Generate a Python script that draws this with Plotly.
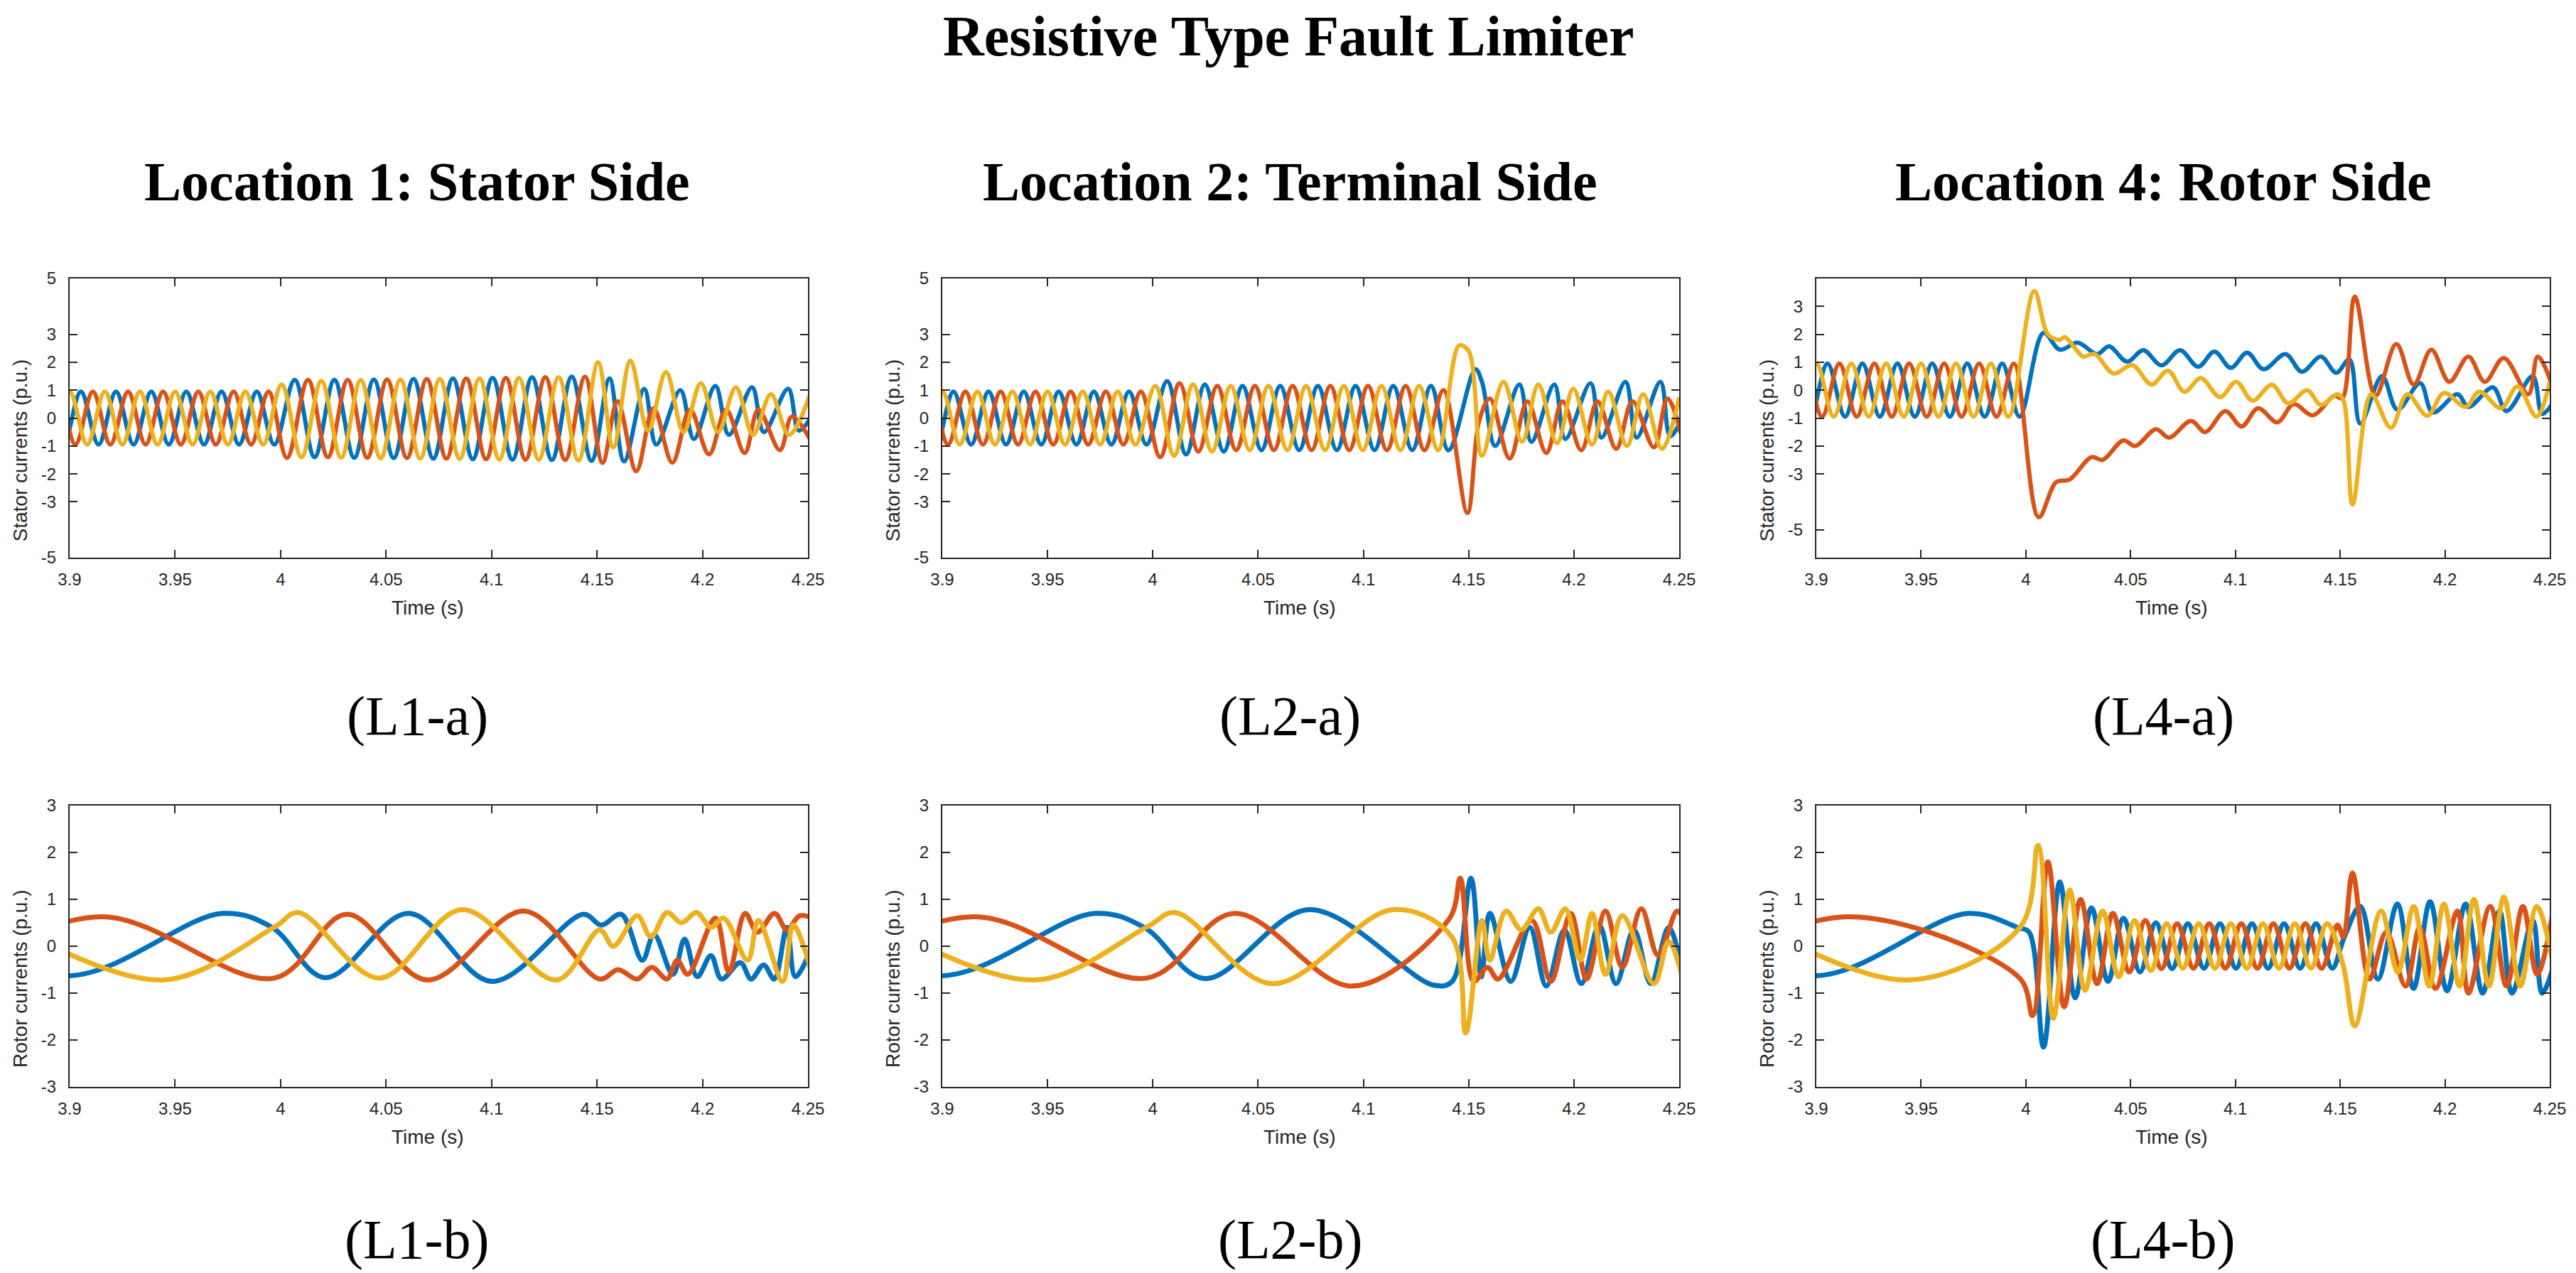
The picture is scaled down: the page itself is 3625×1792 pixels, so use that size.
import plotly.graph_objects as go

W, H = 3625, 1792
BLUE, ORANGE, YELLOW = "#0072BD", "#D95319", "#EDB120"
AX = "#262626"

# ---------------- tick labels ----------------
X_TICKS = [3.9, 3.95, 4.0, 4.05, 4.1, 4.15, 4.2, 4.25]
X_TICK_TEXT = ["3.9", "3.95", "4", "4.05", "4.1", "4.15", "4.2", "4.25"]
ST_TICKS = [-5, -3, -2, -1, 0, 1, 2, 3, 5]
ST_TICK_TEXT = ["-5", "-3", "-2", "-1", "0", "1", "2", "3", "5"]
ST4_TICKS = [-5, -3, -2, -1, 0, 1, 2, 3]
ST4_TICK_TEXT = ["-5", "-3", "-2", "-1", "0", "1", "2", "3"]
RT_TICKS = [-3, -2, -1, 0, 1, 2, 3]
RT_TICK_TEXT = ["-3", "-2", "-1", "0", "1", "2", "3"]

# ---------------- stator currents, pre-fault (shared) ----------------
PRE_ST_Y_T = [3.8833, 3.8917, 3.9000, 3.9083, 3.9167, 3.9250, 3.9333, 3.9417, 3.9500, 3.9583, 3.9667, 3.9750, 3.9833, 3.9917]
PRE_ST_Y_V = [0.95, -0.95, 0.95, -0.95, 0.95, -0.95, 0.95, -0.95, 0.95, -0.95, 0.95, -0.95, 0.95, -0.95]
PRE_ST_B_T = [3.8887, 3.8970, 3.9053, 3.9137, 3.9220, 3.9303, 3.9387, 3.9470, 3.9553, 3.9637, 3.9720, 3.9803, 3.9887, 3.9970]
PRE_ST_B_V = [0.95, -0.95, 0.95, -0.95, 0.95, -0.95, 0.95, -0.95, 0.95, -0.95, 0.95, -0.95, 0.95, -0.95]
PRE_ST_O_T = [3.8860, 3.8943, 3.9027, 3.9110, 3.9193, 3.9277, 3.9360, 3.9443, 3.9527, 3.9610, 3.9693, 3.9777, 3.9860, 3.9943]
PRE_ST_O_V = [-0.95, 0.95, -0.95, 0.95, -0.95, 0.95, -0.95, 0.95, -0.95, 0.95, -0.95, 0.95, -0.95, 0.95]

# ---------------- L1-a ----------------
L1A_B_T = [4.0067, 4.0161, 4.0255, 4.0349, 4.0442, 4.0536, 4.0630, 4.0724, 4.0817, 4.0911, 4.1005, 4.1099, 4.1192, 4.1286, 4.1380, 4.1474,
           4.1559, 4.1628, 4.1724, 4.1781, 4.1895, 4.1959, 4.2061, 4.2125, 4.2235, 4.2291, 4.2406, 4.2457, 4.2520]
L1A_B_V = [1.37, -1.40, 1.37, -1.42, 1.38, -1.43, 1.40, -1.45, 1.42, -1.47, 1.44, -1.49, 1.46, -1.50, 1.48, -1.53,
           1.42, -1.55, 1.05, -0.95, 1.00, -0.75, 1.15, -0.60, 1.10, -0.50, 1.05, -0.45, 0.10]
L1A_O_T = [4.0030, 4.0130, 4.0224, 4.0318, 4.0411, 4.0505, 4.0599, 4.0693, 4.0786, 4.0880, 4.0974, 4.1068, 4.1161, 4.1255, 4.1349, 4.1443,
           4.1526, 4.1597, 4.1686, 4.1768, 4.1857, 4.1941, 4.2031, 4.2112, 4.2200, 4.2265, 4.2367, 4.2424, 4.2520]
L1A_O_V = [-1.43, 1.37, -1.40, 1.37, -1.42, 1.38, -1.43, 1.40, -1.45, 1.42, -1.47, 1.44, -1.49, 1.46, -1.50, 1.48,
           -1.60, 0.60, -1.90, 0.35, -1.60, 0.30, -1.30, 0.30, -1.25, 0.30, -1.15, 0.05, -0.90]
L1A_Y_T = [4.0005, 4.0099, 4.0193, 4.0287, 4.0380, 4.0474, 4.0568, 4.0662, 4.0755, 4.0849, 4.0943, 4.1037, 4.1130, 4.1224, 4.1318, 4.1412,
           4.1505, 4.1577, 4.1658, 4.1742, 4.1827, 4.1910, 4.1992, 4.2074, 4.2158, 4.2240, 4.2324, 4.2410, 4.2510]
L1A_Y_V = [1.20, -1.40, 1.33, -1.42, 1.36, -1.44, 1.38, -1.45, 1.40, -1.46, 1.42, -1.48, 1.44, -1.49, 1.46, -1.52,
           2.00, -1.05, 2.05, -0.45, 1.65, -0.50, 1.25, -0.50, 1.10, -0.60, 0.85, -0.60, 0.85]

# ---------------- L2-a ----------------
L2A_B_T = [4.0068, 4.0158, 4.0247, 4.0337, 4.0426, 4.0516, 4.0605, 4.0695, 4.0784, 4.0874, 4.0963, 4.1053, 4.1142, 4.1232, 4.1321, 4.1404,
           4.1532, 4.1565, 4.1626, 4.1741, 4.1798, 4.1907, 4.1959, 4.2079, 4.2130, 4.2245, 4.2298, 4.2411, 4.2457, 4.2520]
L2A_B_V = [1.32, -1.30, 1.20, -1.20, 1.15, -1.15, 1.15, -1.15, 1.15, -1.15, 1.15, -1.15, 1.15, -1.15, 1.15, -1.15,
           1.75, 1.25, -1.00, 1.20, -0.85, 1.20, -0.75, 1.25, -0.70, 1.30, -0.70, 1.30, -0.65, 0.10]
L2A_O_T = [4.0035, 4.0127, 4.0216, 4.0306, 4.0396, 4.0485, 4.0575, 4.0664, 4.0754, 4.0843, 4.0933, 4.1022, 4.1112, 4.1201, 4.1290, 4.1380,
           4.1494, 4.1550, 4.1601, 4.1695, 4.1779, 4.1869, 4.1946, 4.2035, 4.2112, 4.2201, 4.2278, 4.2380, 4.2444, 4.2520]
L2A_O_V = [-1.40, 1.25, -1.20, 1.15, -1.15, 1.15, -1.15, 1.15, -1.15, 1.15, -1.15, 1.15, -1.15, 1.15, -1.15, 1.00,
           -3.40, -0.10, 0.70, -1.45, 0.60, -1.25, 0.60, -1.15, 0.60, -1.10, 0.60, -1.05, 0.70, -0.90]
L2A_Y_T = [4.0012, 4.0101, 4.0191, 4.0281, 4.0370, 4.0460, 4.0549, 4.0639, 4.0728, 4.0818, 4.0907, 4.0997, 4.1086, 4.1176, 4.1265, 4.1355,
           4.1455, 4.1500, 4.1563, 4.1665, 4.1754, 4.1831, 4.1920, 4.1997, 4.2086, 4.2163, 4.2252, 4.2329, 4.2418, 4.2500]
L2A_Y_V = [1.15, -1.35, 1.20, -1.20, 1.15, -1.15, 1.15, -1.15, 1.15, -1.15, 1.15, -1.15, 1.15, -1.15, 1.15, -1.15,
           2.60, 2.40, -1.35, 1.30, -0.85, 1.20, -0.90, 1.05, -0.95, 0.95, -1.00, 0.85, -1.10, 0.75]

# ---------------- L4-a ----------------
L4A_B_T = [4.0084, 4.0162, 4.0248, 4.0340, 4.0397, 4.0483, 4.0561, 4.0647, 4.0736, 4.0822, 4.0900, 4.0978, 4.1056, 4.1134, 4.1239, 4.1317,
           4.1408, 4.1481, 4.1544, 4.1596, 4.1700, 4.1773, 4.1882, 4.1942, 4.2060, 4.2112, 4.2229, 4.2294, 4.2419, 4.2464, 4.2520]
L4A_B_V = [2.05, 1.45, 1.70, 1.29, 1.57, 1.02, 1.43, 0.89, 1.43, 0.84, 1.38, 0.80, 1.34, 0.75, 1.29, 0.66,
           1.20, 0.62, 1.10, -1.20, 0.50, -0.70, 0.25, -0.80, -0.15, -0.60, 0.10, -0.75, 0.50, -0.85, -0.40]
L4A_O_T = [4.0061, 4.0144, 4.0209, 4.0313, 4.0366, 4.0465, 4.0522, 4.0621, 4.0684, 4.0788, 4.0856, 4.0952, 4.1030, 4.1108, 4.1200, 4.1278,
           4.1369, 4.1473, 4.1510, 4.1570, 4.1669, 4.1768, 4.1851, 4.1935, 4.2021, 4.2112, 4.2190, 4.2281, 4.2398, 4.2443, 4.2520]
L4A_O_V = [-4.55, -3.30, -3.20, -2.40, -2.50, -1.80, -2.00, -1.40, -1.70, -1.10, -1.50, -0.75, -1.30, -0.65, -1.15, -0.50,
           -0.90, -0.20, -0.30, 3.35, -0.20, 1.65, 0.20, 1.45, 0.30, 1.20, 0.30, 1.15, -0.15, 1.20, 0.00]
L4A_Y_T = [4.0040, 4.0105, 4.0160, 4.0185, 4.0235, 4.0274, 4.0327, 4.0418, 4.0509, 4.0600, 4.0678, 4.0757, 4.0835, 4.0926, 4.1004, 4.1082,
           4.1174, 4.1252, 4.1343, 4.1408, 4.1486, 4.1515, 4.1559, 4.1648, 4.1742, 4.1820, 4.1916, 4.1995, 4.2099, 4.2164, 4.2268, 4.2346,
           4.2437, 4.2500]
L4A_Y_V = [3.55, 2.00, 1.80, 1.90, 1.50, 1.20, 1.30, 0.60, 0.89, 0.20, 0.70, -0.06, 0.43, -0.25, 0.30, -0.38,
           0.19, -0.47, 0.00, -0.53, -0.15, -0.35, -4.10, -0.15, -1.35, -0.15, -0.92, -0.10, -0.60, -0.05, -0.65, 0.13,
           -0.95, 0.30]

# ---------------- rotor currents, pre-fault (shared) ----------------
PRE_RT_B_T = [3.825, 3.899, 3.9725, 3.9960]
PRE_RT_B_V = [0.70, -0.63, 0.70, 0.40]
PRE_RT_O_T = [3.840, 3.915, 3.997]
PRE_RT_O_V = [-0.65, 0.63, -0.68]
PRE_RT_Y_T = [3.862, 3.944, 3.9975]
PRE_RT_Y_V = [0.70, -0.72, 0.42]

# ---------------- L1-b ----------------
L1B_B_T = [4.0212, 4.0607, 4.1003, 4.1436, 4.1520, 4.1615, 4.1715, 4.1770, 4.1860, 4.1915, 4.1975, 4.2040, 4.2090, 4.2180, 4.2230, 4.2290,
           4.2340, 4.2400, 4.2440, 4.2520]
L1B_B_V = [-0.67, 0.70, -0.75, 0.68, 0.45, 0.68, -0.30, 0.25, -0.60, 0.15, -0.65, -0.20, -0.70, -0.35, -0.70, -0.40,
           -0.70, 0.40, -0.65, 0.00]
L1B_O_T = [4.0314, 4.0696, 4.1156, 4.1513, 4.1600, 4.1690, 4.1760, 4.1832, 4.1880, 4.1930, 4.2061, 4.2125, 4.2202, 4.2260, 4.2342, 4.2400,
           4.2460, 4.2520]
L1B_O_V = [0.68, -0.72, 0.75, -0.70, -0.50, -0.70, -0.45, -0.70, -0.30, -0.60, 0.60, -0.55, 0.70, 0.30, 0.70, 0.35,
           0.65, 0.60]
L1B_Y_T = [4.0084, 4.0467, 4.0862, 4.1309, 4.1513, 4.1577, 4.1691, 4.1755, 4.1832, 4.1900, 4.1972, 4.2040, 4.2100, 4.2214, 4.2265, 4.2380,
           4.2430, 4.2520]
L1B_Y_V = [0.72, -0.68, 0.78, -0.72, 0.35, 0.00, 0.65, 0.20, 0.72, 0.50, 0.72, 0.40, 0.60, -0.30, 0.55, -0.75,
           0.45, -0.60]

# ---------------- L2-b ----------------
L2B_B_T = [4.0247, 4.0745, 4.1333, 4.1422, 4.1511, 4.1560, 4.1601, 4.1700, 4.1790, 4.1869, 4.1955, 4.2035, 4.2120, 4.2200, 4.2285, 4.2365,
           4.2450, 4.2520]
L2B_B_V = [-0.69, 0.78, -0.83, -0.75, 1.45, -0.65, 0.70, -0.75, 0.40, -0.85, 0.35, -0.80, 0.45, -0.80, 0.35, -0.80,
           0.40, -0.70]
L2B_O_T = [4.0387, 4.0949, 4.1410, 4.1460, 4.1524, 4.1589, 4.1640, 4.1800, 4.1890, 4.1985, 4.2060, 4.2150, 4.2230, 4.2320, 4.2400, 4.2490,
           4.2520]
L2B_O_V = [0.70, -0.85, 0.60, 1.45, -0.75, -0.45, -0.70, 0.55, -0.75, 0.70, -0.70, 0.75, -0.45, 0.80, -0.20, 0.75,
           0.60]
L2B_Y_T = [4.0106, 4.0566, 4.1141, 4.1420, 4.1486, 4.1563, 4.1600, 4.1678, 4.1750, 4.1831, 4.1890, 4.1959, 4.2030, 4.2086, 4.2150, 4.2230,
           4.2380, 4.2450, 4.2520]
L2B_Y_V = [0.72, -0.80, 0.78, 0.20, -1.85, 0.55, -0.30, 0.75, 0.35, 0.80, 0.30, 0.80, -0.30, 0.70, -0.60, 0.65,
           -0.80, 0.10, -0.75]

# ---------------- L4-b ----------------
L4B_B_T = [4.0015, 4.0084, 4.0162, 4.0235, 4.0313, 4.0392, 4.0466, 4.0545, 4.0620, 4.0698, 4.0773, 4.0850, 4.0926, 4.1003, 4.1079, 4.1156,
           4.1232, 4.1309, 4.1385, 4.1462, 4.1520, 4.1596, 4.1680, 4.1773, 4.1850, 4.1929, 4.2010, 4.2099, 4.2180, 4.2260, 4.2320, 4.2419,
           4.2464, 4.2520]
L4B_B_V = [0.30, -2.15, 1.37, -1.10, 0.82, -0.75, 0.60, -0.55, 0.50, -0.48, 0.48, -0.47, 0.48, -0.47, 0.48, -0.47,
           0.48, -0.47, 0.48, -0.47, 0.20, 0.85, -0.70, 0.90, -0.90, 0.95, -0.95, 0.90, -1.00, 0.75, -1.00, 0.55,
           -1.00, -0.40]
L4B_O_T = [4.0032, 4.0105, 4.0183, 4.0261, 4.0340, 4.0415, 4.0494, 4.0570, 4.0647, 4.0722, 4.0800, 4.0875, 4.0952, 4.1028, 4.1105, 4.1181,
           4.1258, 4.1334, 4.1411, 4.1487, 4.1515, 4.1559, 4.1640, 4.1720, 4.1812, 4.1880, 4.1955, 4.2060, 4.2112, 4.2216, 4.2294, 4.2372,
           4.2440, 4.2520]
L4B_O_V = [-1.48, 1.80, -1.29, 1.00, -0.80, 0.70, -0.55, 0.55, -0.48, 0.48, -0.47, 0.48, -0.47, 0.48, -0.47, 0.48,
           -0.47, 0.48, -0.47, 0.45, 0.20, 1.56, -0.70, 0.30, -0.85, 0.40, -0.90, 0.75, -1.00, 0.85, -0.85, 0.85,
           -0.60, 0.85]
L4B_Y_T = [4.0058, 4.0131, 4.0209, 4.0282, 4.0366, 4.0443, 4.0519, 4.0596, 4.0672, 4.0749, 4.0825, 4.0902, 4.0978, 4.1055, 4.1131, 4.1208,
           4.1284, 4.1361, 4.1437, 4.1514, 4.1570, 4.1695, 4.1775, 4.1851, 4.1925, 4.1995, 4.2070, 4.2138, 4.2210, 4.2281, 4.2360, 4.2438,
           4.2520]
L4B_Y_V = [2.15, -1.54, 1.20, -0.94, 0.75, -0.65, 0.55, -0.52, 0.48, -0.47, 0.48, -0.47, 0.48, -0.47, 0.48, -0.47,
           0.48, -0.47, 0.48, -0.40, -1.70, 0.75, -0.55, 0.85, -0.85, 0.90, -0.85, 1.00, -0.85, 1.05, -0.85, 0.85,
           -0.45]

# ---------------- text ----------------
MAIN_TITLE = "Resistive Type Fault Limiter"
COL_TITLES = ["Location 1: Stator Side", "Location 2: Terminal Side", "Location 4: Rotor Side"]
CAPTIONS_A = ["(L1-a)", "(L2-a)", "(L4-a)"]
CAPTIONS_B = ["(L1-b)", "(L2-b)", "(L4-b)"]
Y_TITLE_A = "Stator currents (p.u.)"
Y_TITLE_B = "Rotor currents (p.u.)"
X_TITLE = "Time (s)"

# ---------------- layout geometry (pixels) ----------------
COLS = [(98, 1137), (1326, 2363), (2556, 3588)]
ROWS = [(392, 785), (1134, 1530)]
COL_TEXT_X = [587, 1816, 3044]

fig = go.Figure()

panels = [
    (0, 0, [(PRE_ST_B_T + L1A_B_T, PRE_ST_B_V + L1A_B_V, BLUE),
            (PRE_ST_O_T + L1A_O_T, PRE_ST_O_V + L1A_O_V, ORANGE),
            (PRE_ST_Y_T + L1A_Y_T, PRE_ST_Y_V + L1A_Y_V, YELLOW)],
     [-5, 5], ST_TICKS, ST_TICK_TEXT, Y_TITLE_A, 6),
    (1, 0, [(PRE_ST_B_T + L2A_B_T, PRE_ST_B_V + L2A_B_V, BLUE),
            (PRE_ST_O_T + L2A_O_T, PRE_ST_O_V + L2A_O_V, ORANGE),
            (PRE_ST_Y_T + L2A_Y_T, PRE_ST_Y_V + L2A_Y_V, YELLOW)],
     [-5, 5], ST_TICKS, ST_TICK_TEXT, Y_TITLE_A, 6),
    (2, 0, [(PRE_ST_B_T + L4A_B_T, PRE_ST_B_V + L4A_B_V, BLUE),
            (PRE_ST_O_T + L4A_O_T, PRE_ST_O_V + L4A_O_V, ORANGE),
            (PRE_ST_Y_T + L4A_Y_T, PRE_ST_Y_V + L4A_Y_V, YELLOW)],
     [-6, 4], ST4_TICKS, ST4_TICK_TEXT, Y_TITLE_A, 6),
    (0, 1, [(PRE_RT_B_T + L1B_B_T, PRE_RT_B_V + L1B_B_V, BLUE),
            (PRE_RT_O_T + L1B_O_T, PRE_RT_O_V + L1B_O_V, ORANGE),
            (PRE_RT_Y_T + L1B_Y_T, PRE_RT_Y_V + L1B_Y_V, YELLOW)],
     [-3, 3], RT_TICKS, RT_TICK_TEXT, Y_TITLE_B, 7),
    (1, 1, [(PRE_RT_B_T + L2B_B_T, PRE_RT_B_V + L2B_B_V, BLUE),
            (PRE_RT_O_T + L2B_O_T, PRE_RT_O_V + L2B_O_V, ORANGE),
            (PRE_RT_Y_T + L2B_Y_T, PRE_RT_Y_V + L2B_Y_V, YELLOW)],
     [-3, 3], RT_TICKS, RT_TICK_TEXT, Y_TITLE_B, 7),
    (2, 1, [(PRE_RT_B_T + L4B_B_T, PRE_RT_B_V + L4B_B_V, BLUE),
            (PRE_RT_O_T + L4B_O_T, PRE_RT_O_V + L4B_O_V, ORANGE),
            (PRE_RT_Y_T + L4B_Y_T, PRE_RT_Y_V + L4B_Y_V, YELLOW)],
     [-3, 3], RT_TICKS, RT_TICK_TEXT, Y_TITLE_B, 7),
]

TICK_FONT = dict(family="Liberation Sans, Arial, sans-serif", size=24, color=AX)
LABEL_FONT = dict(family="Liberation Sans, Arial, sans-serif", size=28, color=AX)
annotations = []
layout = {}

for i, (c, r, series, yr, yt, ytt, ytitle, lw) in enumerate(panels, start=1):
    xa = "x" if i == 1 else f"x{i}"
    ya = "y" if i == 1 else f"y{i}"
    for t, v, col in series:
        fig.add_trace(go.Scatter(
            x=t, y=v, mode="lines", xaxis=xa, yaxis=ya,
            line=dict(color=col, width=lw, shape="spline", smoothing=1.0),
            showlegend=False, hoverinfo="skip"))
    x0, x1 = COLS[c]
    y0, y1 = ROWS[r]
    common = dict(showline=True, linecolor=AX, linewidth=2, mirror="ticks",
                  ticks="inside", ticklen=11, tickwidth=2, tickcolor=AX,
                  showgrid=False, zeroline=False, tickfont=TICK_FONT, automargin=False)
    layout["xaxis" if i == 1 else f"xaxis{i}"] = dict(
        domain=[x0 / W, x1 / W], range=[3.9, 4.25], anchor=ya, ticklabelstandoff=8,
        tickmode="array", tickvals=X_TICKS, ticktext=X_TICK_TEXT, **common)
    layout["yaxis" if i == 1 else f"yaxis{i}"] = dict(
        domain=[1 - y1 / H, 1 - y0 / H], range=yr, anchor=xa, ticklabelstandoff=12,
        tickmode="array", tickvals=yt, ticktext=ytt, **common)
    annotations.append(dict(text=ytitle, x=(x0 - 70) / W, y=1 - ((y0 + y1) / 2 + 46) / H,
                            xref="paper", yref="paper", textangle=-90, showarrow=False,
                            xanchor="center", yanchor="middle", font=LABEL_FONT))
    annotations.append(dict(text=X_TITLE, x=((x0 + x1) / 2 - 16) / W, y=1 - (y1 + 70) / H,
                            xref="paper", yref="paper", showarrow=False,
                            xanchor="center", yanchor="middle", font=LABEL_FONT))

SERIF_B = dict(family="Liberation Serif, Times New Roman, serif", size=78, color="black")
SERIF_T = dict(family="Liberation Serif, Times New Roman, serif", size=80, color="black")
SERIF = dict(family="Liberation Serif, Times New Roman, serif", size=78, color="black")
annotations.append(dict(text="<b>" + MAIN_TITLE + "</b>", x=0.5, y=1 - 51 / H, xref="paper", yref="paper",
                        showarrow=False, xanchor="center", yanchor="middle", font=SERIF_T))
for k in range(3):
    annotations.append(dict(text="<b>" + COL_TITLES[k] + "</b>", x=COL_TEXT_X[k] / W, y=1 - 255 / H,
                            xref="paper", yref="paper", showarrow=False,
                            xanchor="center", yanchor="middle", font=SERIF_B))
    annotations.append(dict(text=CAPTIONS_A[k], x=COL_TEXT_X[k] / W, y=1 - 1007 / H,
                            xref="paper", yref="paper", showarrow=False,
                            xanchor="center", yanchor="middle", font=SERIF))
    annotations.append(dict(text=CAPTIONS_B[k], x=COL_TEXT_X[k] / W, y=1 - 1744 / H,
                            xref="paper", yref="paper", showarrow=False,
                            xanchor="center", yanchor="middle", font=SERIF))

fig.update_layout(width=W, height=H, margin=dict(l=0, r=0, t=0, b=0, autoexpand=False),
                  paper_bgcolor="white", plot_bgcolor="white",
                  annotations=annotations, **layout)

fig.write_html("out.html", config={"displayModeBar": False},
               post_script="document.body.style.margin='0';document.body.style.overflow='hidden';")
